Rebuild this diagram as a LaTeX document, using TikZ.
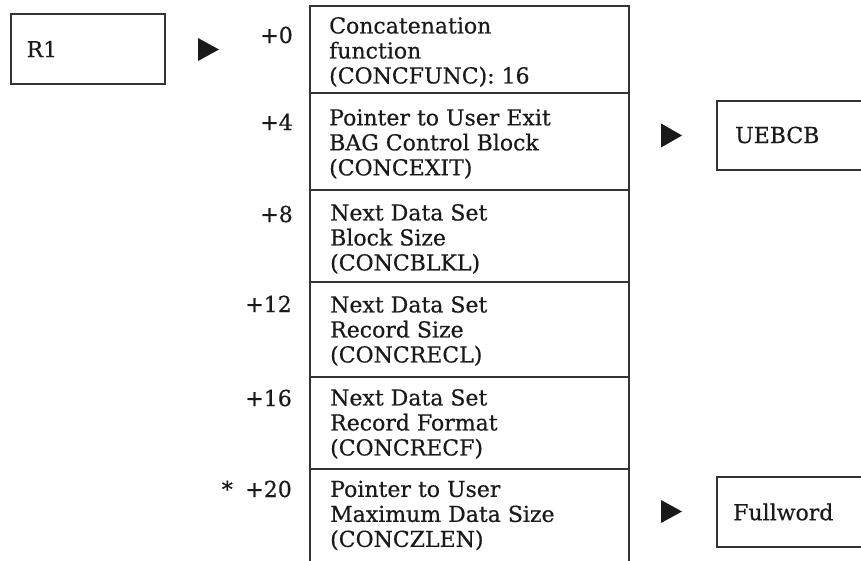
\documentclass[tikz,border=0pt]{standalone}
\usepackage{fontspec}
\setmainfont[UprightFeatures={FakeBold=0.5}]{DejaVu Serif}
\definecolor{ink}{HTML}{1A1A1A}
\definecolor{rule}{HTML}{333333}
\begin{document}
\begin{tikzpicture}[x=1pt,y=-1pt,
  txt/.style={font=\fontsize{22}{25}\selectfont, text=ink, inner sep=0pt, align=left},
  rowbox/.style={draw=rule, line width=1.2pt, minimum width=319pt, inner sep=0pt},
  refbox/.style={draw=rule, line width=1.2pt, inner sep=0pt},
  offs/.style={font=\fontsize{22}{25}\selectfont, text=ink, inner sep=0pt, anchor=base east},
  tri/.style={fill=ink}
]
\useasboundingbox (0,0) rectangle (861,560);

% R1 box
\node[refbox, minimum width=154pt, minimum height=70pt] (R1) at (88,49) {};
\node[txt, anchor=west] (R1t) at ([xshift=16pt]R1.west) {R1};

% rows of the control block
\node[rowbox, minimum height=87pt] (r1) at (469.5,49.5) {};
\node[rowbox, minimum height=97pt] (r2) at (469.5,141.5) {};
\node[rowbox, minimum height=92pt] (r3) at (469.5,236) {};
\node[rowbox, minimum height=95pt] (r4) at (469.5,329.5) {};
\node[rowbox, minimum height=92pt] (r5) at (469.5,423) {};
\node[rowbox, minimum height=98pt] (r6) at (469.5,518) {};

\node[txt, anchor=west] (t1) at (329,52) {Concatenation\\function\\(CONCFUNC): 16};
\node[txt, anchor=west] (t2) at (329,144) {Pointer to User Exit\\BAG Control Block\\(CONCEXIT)};
\node[txt, anchor=west] (t3) at (330,239) {Next Data Set\\Block Size\\(CONCBLKL)};
\node[txt, anchor=west] (t4) at (330,331) {Next Data Set\\Record Size\\(CONCRECL)};
\node[txt, anchor=west] (t5) at (330,424) {Next Data Set\\Record Format\\(CONCRECF)};
\node[txt, anchor=west] (t6) at (330,515.5) {Pointer to User\\Maximum Data Size\\(CONCZLEN)};

% offsets
\node[offs] (o1) at (293,43) {+0};
\node[offs] (o2) at (293,130) {+4};
\node[offs] (o3) at (293,222) {+8};
\node[offs] (o4) at (292,312) {+12};
\node[offs] (o5) at (292,406) {+16};
\node[offs] (o6) at (292,497) {+20};
\node[offs] (star) at (233,497) {*};

% target boxes (right side runs off the page)
\coordinate (ub1) at (717,101);
\coordinate (ub2) at (717,170);
\draw[draw=rule, line width=1.2pt] (ub1 -| 870,0) -- (ub1) -- (ub2) -- (ub2 -| 870,0);
\node[txt, anchor=west] (UE) at (735,135) {UEBCB};
\coordinate (fb1) at (717,477);
\coordinate (fb2) at (717,547);
\draw[draw=rule, line width=1.2pt] (fb1 -| 870,0) -- (fb1) -- (fb2) -- (fb2 -| 870,0);
\node[txt, anchor=west] (FW) at (733,512) {Fullword};

% pointer arrowheads
\coordinate (a1) at (198,49.5);
\fill[tri] (a1) ++(0,-11.5) -- ++(21,11.5) -- ++(-21,11.5) -- cycle;
\coordinate (a2) at (661,135.5);
\fill[tri] (a2) ++(0,-12) -- ++(21,12) -- ++(-21,12) -- cycle;
\coordinate (a3) at (661,511.5);
\fill[tri] (a3) ++(0,-11.5) -- ++(21,11.5) -- ++(-21,11.5) -- cycle;
\end{tikzpicture}
\end{document}
